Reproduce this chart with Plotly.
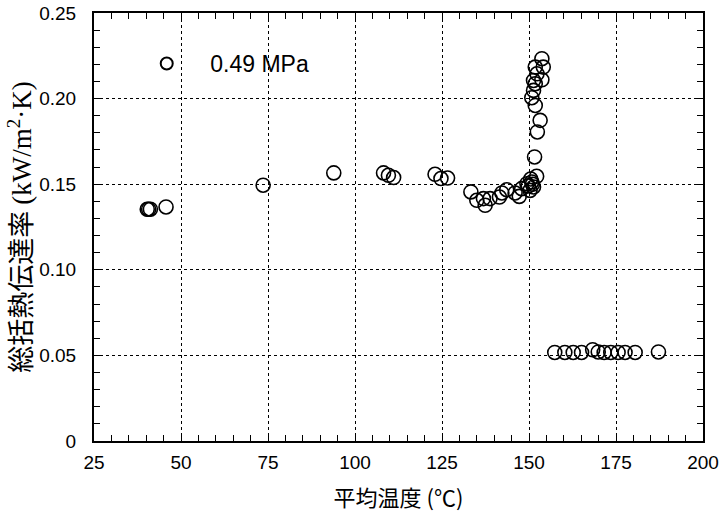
import plotly.graph_objects as go

series_name = "0.49 MPa"
temp = [40.3, 40.7, 41.2, 45.7, 73.6, 93.9, 108.2, 109.6, 111.1,
        123.0, 124.7, 126.6, 133.3, 135.0, 136.9, 137.4, 138.8, 141.5,
        142.2, 143.6, 146.0, 147.2, 147.9, 149.4, 150.3, 150.8, 151.3,
        149.8, 150.5, 151.0, 152.2, 151.6, 152.4, 153.2, 151.8, 150.8,
        151.3, 151.8, 151.3, 153.7, 152.3, 151.8, 154.1, 153.7,
        157.4, 160.3, 162.7, 165.1, 168.3, 169.9, 171.6, 173.5, 175.6,
        177.6, 180.5, 187.2]
htc = [0.1354, 0.1354, 0.1354, 0.1367, 0.1494, 0.1566, 0.1566, 0.1552, 0.1539,
       0.1558, 0.1533, 0.1536, 0.1455, 0.1406, 0.1416, 0.1377, 0.1416, 0.1425,
       0.1449, 0.1468, 0.1449, 0.1429, 0.1474, 0.1503, 0.1464, 0.1513, 0.1484,
       0.1490, 0.1530, 0.1500, 0.1546, 0.1659, 0.1805, 0.1873, 0.1960, 0.2005,
       0.2048, 0.2087, 0.2106, 0.2110, 0.2145, 0.2184, 0.2184, 0.2233,
       0.0517, 0.0517, 0.0517, 0.0517, 0.0533, 0.0520, 0.0517, 0.0517, 0.0517,
       0.0517, 0.0517, 0.0520]

x_ticks = [25, 50, 75, 100, 125, 150, 175, 200]
x_tick_labels = ["25", "50", "75", "100", "125", "150", "175", "200"]
y_ticks = [0, 0.05, 0.10, 0.15, 0.20, 0.25]
y_tick_labels = ["0", "0.05", "0.10", "0.15", "0.20", "0.25"]

x_title = "平均温度 (℃)"
y_title = '総括熱伝達率 <span style="font-family:\'Liberation Serif\'">(kW/m<sup>2</sup>·K)</span>'

fig = go.Figure()
fig.add_trace(go.Scatter(
    x=temp, y=htc, mode="markers", name=series_name,
    marker=dict(symbol="circle-open", size=14, color="black",
                line=dict(width=1.6, color="black")),
))

axis_common = dict(
    showline=True, linecolor="black", linewidth=2, mirror="ticks",
    ticks="inside", ticklen=7, tickwidth=1.2, tickcolor="black",
    showgrid=True, gridcolor="black", gridwidth=1, griddash="dot",
    zeroline=False, automargin=False,
    tickfont=dict(family="Liberation Sans, Arial", size=19, color="black"),
)

fig.update_xaxes(
    range=[25, 200], tickvals=x_ticks, ticktext=x_tick_labels,
    ticklabelstandoff=3,
    minor=dict(dtick=5, ticks="inside", ticklen=6, tickcolor="black", showgrid=False),
    title=dict(text=x_title, standoff=25,
               font=dict(family="Noto Sans CJK JP", size=22, color="black")),
    **axis_common,
)
fig.update_yaxes(
    range=[0, 0.25], tickvals=y_ticks, ticktext=y_tick_labels,
    ticklabelstandoff=12,
    minor=dict(dtick=0.01, ticks="inside", ticklen=6, tickcolor="black", showgrid=False),
    title=dict(text=y_title, standoff=3,
               font=dict(family="Noto Sans CJK JP", size=27, color="black")),
    **axis_common,
)

fig.update_layout(
    width=723, height=512,
    margin=dict(l=94, r=20, t=13, b=71),
    plot_bgcolor="white", paper_bgcolor="white",
    showlegend=True,
    legend=dict(x=0.048, y=0.882, xanchor="left", yanchor="middle",
                bgcolor="rgba(0,0,0,0)", itemsizing="constant", itemwidth=77,
                font=dict(family="Liberation Sans, Arial", size=23, color="black")),
)

fig.write_html("out.html", config={"displayModeBar": False},
               post_script="document.body.style.margin='0';")
